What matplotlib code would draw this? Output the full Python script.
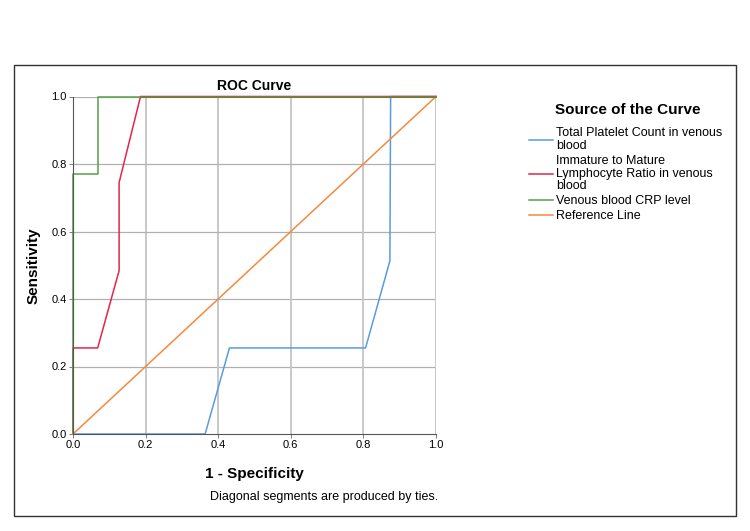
import matplotlib
matplotlib.use("Agg")
import matplotlib.pyplot as plt
from matplotlib.patches import Rectangle

plt.rcParams['font.family'] = ['Liberation Sans', 'DejaVu Sans']

# ROC data
platelet_fpr = [0.0, 0.364, 0.431, 0.806, 0.873, 0.875, 1.0]
platelet_tpr = [0.0, 0.0, 0.255, 0.255, 0.513, 1.0, 1.0]

ratio_fpr = [0.0, 0.0, 0.068, 0.127, 0.127, 0.186, 1.0]
ratio_tpr = [0.0, 0.255, 0.255, 0.484, 0.745, 1.0, 1.0]

crp_fpr = [0.0, 0.0, 0.068, 0.068, 1.0]
crp_tpr = [0.0, 0.770, 0.770, 1.0, 1.0]

ref_x = [0.0, 1.0]
ref_y = [0.0, 1.0]

labels = ["Total Platelet Count in venous\nblood",
          "Immature to Mature\nLymphocyte Ratio in venous\nblood",
          "Venous blood CRP level",
          "Reference Line"]
colors = ["#5b9be0", "#e3254a", "#55a048", "#f5893e"]
ticks = [0.0, 0.2, 0.4, 0.6, 0.8, 1.0]

fig = plt.figure(figsize=(7.5, 5.31), dpi=100)
fig.patch.set_facecolor("white")

# outer frame
fig.patches.append(Rectangle((14/750, 1-516/531), (736-14)/750, (516-65)/531,
                             transform=fig.transFigure, fill=False,
                             edgecolor="#333333", linewidth=1.0))

ax = fig.add_axes([73/750, 1-434/531, 363/750, 337.5/531])
ax.set_xlim(0, 1)
ax.set_ylim(0, 1)
ax.set_xticks(ticks)
ax.set_yticks(ticks)
ax.set_xticklabels([f"{t:.1f}" for t in ticks], fontsize=8)
ax.set_yticklabels([f"{t:.1f}" for t in ticks], fontsize=8)
ax.tick_params(length=3, width=0.6, color="#666666", pad=1.5)

for t in ticks[1:]:
    ax.axvline(t, color="#c8c8c8", linewidth=1.4, zorder=0)
    ax.axhline(t, color="#b0b0b0", linewidth=0.9, zorder=0)

for s in ["top", "right"]:
    ax.spines[s].set_visible(False)
ax.spines["left"].set_color("#555555")
ax.spines["bottom"].set_color("#555555")
ax.spines["left"].set_linewidth(0.8)
ax.spines["bottom"].set_linewidth(0.8)

series = [(platelet_fpr, platelet_tpr), (ratio_fpr, ratio_tpr),
          (crp_fpr, crp_tpr), (ref_x, ref_y)]
handles = []
for (x, y), c, lab in zip(series, colors, labels):
    h, = ax.plot(x, y, color=c, linewidth=1.1, label=lab, clip_on=False)
    handles.append(h)
# olive overlap along the top
ax.plot([0.186, 1.0], [1.0, 1.0], color="#7a7a3a", linewidth=1.4, clip_on=False)

ax.set_title("ROC Curve", fontsize=10, fontweight="bold", pad=5)
ax.set_xlabel("1 - Specificity", fontsize=11, fontweight="bold", labelpad=12)
ax.set_ylabel("Sensitivity", fontsize=11, fontweight="bold", labelpad=8)

fig.text(555/750, 1-110/531, "Source of the Curve", fontsize=11,
         fontweight="bold", ha="left", va="center")
leg = fig.legend(handles=handles, labels=labels, loc="upper left",
                 bbox_to_anchor=(529/750, 1-127/531), frameon=False,
                 fontsize=9, handlelength=1.9, handletextpad=0.3,
                 labelspacing=0.22, borderpad=0, borderaxespad=0)
for t in leg.get_texts():
    t.set_linespacing(1.1)

fig.text(210/750, 1-497/531, "Diagonal segments are produced by ties.",
         fontsize=9, va="center", ha="left")

fig.savefig("out.png", dpi=100)
